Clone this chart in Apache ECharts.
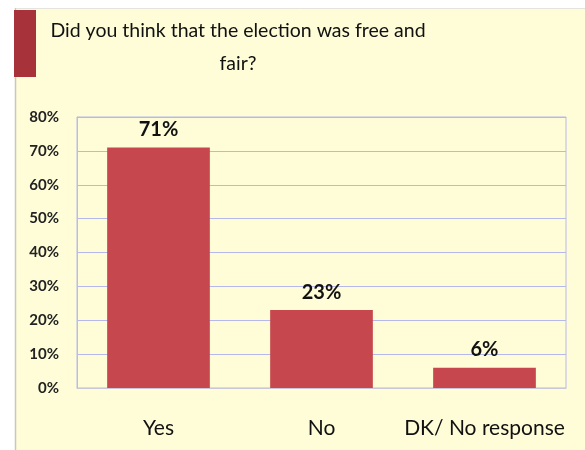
<!DOCTYPE html>
<html>
<head>
<meta charset="utf-8">
<script src="https://cdn.jsdelivr.net/npm/echarts@6/dist/echarts.min.js"></script>
<style>html,body{margin:0;padding:0;background:#fff;}#c{width:585px;height:450px;}</style>
</head>
<body>
<div id="c"></div>
<script>
const categories = ['Yes', 'No', 'DK/ No response'];
const values = [71, 23, 6];
const yTicks = [0, 10, 20, 30, 40, 50, 60, 70, 80];
const titleLines = ['Did you think that the election was free and', 'fair?'];

const chart = echarts.init(document.getElementById('c'), null, {renderer: 'canvas'});
chart.setOption({
  backgroundColor: '#ffffff',
  animation: false,
  graphic: [
    {type: 'rect', z: -10, shape: {x: 16, y: 8, width: 569, height: 442}, style: {fill: '#FEFDD8'}},
    {type: 'line', z: -9, shape: {x1: 15.5, y1: 8, x2: 15.5, y2: 450}, style: {stroke: '#C8C8C0', lineWidth: 1.5}},
    {type: 'line', z: -9, shape: {x1: 16, y1: 8.5, x2: 585, y2: 8.5}, style: {stroke: '#E4E4DC', lineWidth: 1}},
    {type: 'rect', z: -8, shape: {x: 14, y: 10, width: 22, height: 67}, style: {fill: '#A8323A'}}
  ],
  title: {
    text: titleLines.join('\n'),
    left: 233, top: 9, textAlign: 'center',
    textStyle: {fontFamily: 'Lato', fontSize: 19.5, fontWeight: 'normal', color: '#111', lineHeight: 33}
  },
  grid: {left: 77, right: 19, top: 117, bottom: 62, show: true, borderColor: '#B8B8EC', borderWidth: 1, backgroundColor: 'transparent'},
  xAxis: {
    type: 'category', data: categories,
    axisLine: {show: true, lineStyle: {color: '#C8C8D8'}},
    axisTick: {show: false},
    axisLabel: {fontFamily: 'Lato', fontSize: 21, color: '#111', margin: 30, interval: 0}
  },
  yAxis: {
    type: 'value', min: 0, max: 80, interval: 10,
    axisLine: {show: true, lineStyle: {color: '#C0C0C8'}},
    axisTick: {show: false},
    splitLine: {lineStyle: {color: '#B4B8EC', width: 1}},
    axisLabel: {fontFamily: 'Lato', fontWeight: 'bold', fontSize: 15, color: '#222', margin: 18,
      formatter: v => v + '%'}
  },
  series: [{
    type: 'bar', data: values, barCategoryGap: '37%',
    itemStyle: {color: '#C6474D'},
    label: {show: true, position: 'top', distance: 8, formatter: p => p.value + '%',
      fontFamily: 'Lato', fontSize: 20, fontWeight: 'bold', color: '#111'}
  }]
});
</script>
</body>
</html>
